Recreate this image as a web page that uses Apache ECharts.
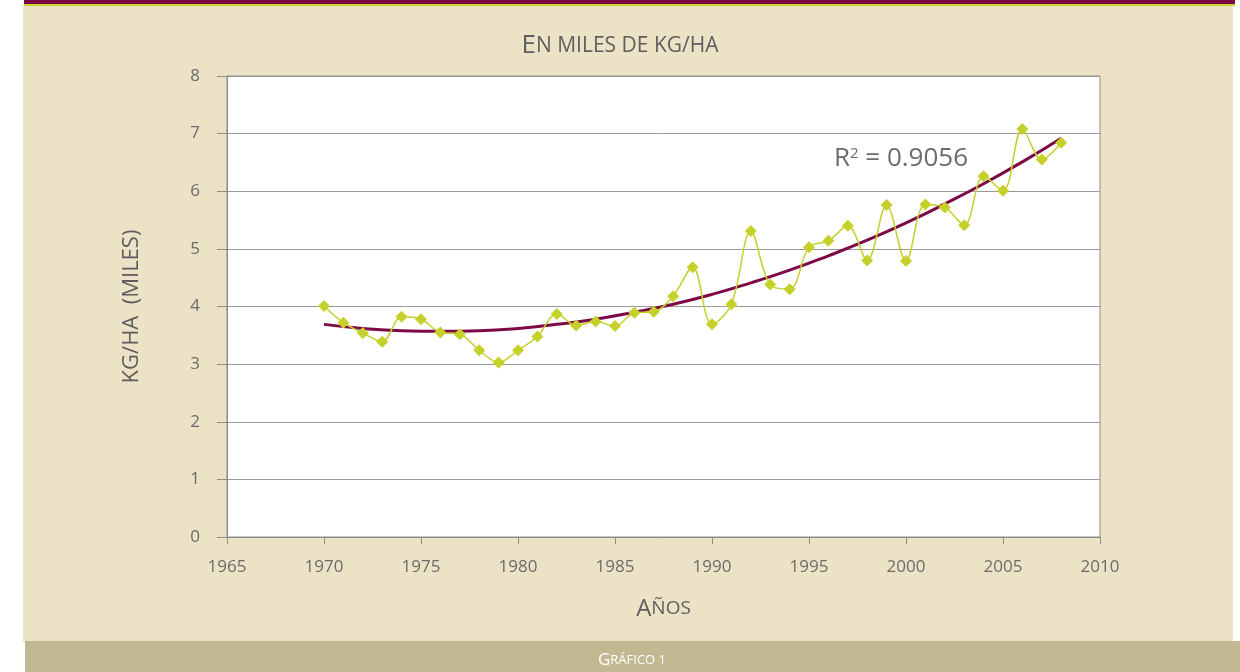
<!DOCTYPE html>
<html>
<head>
<meta charset="utf-8">
<script src="https://cdn.jsdelivr.net/npm/echarts@6/dist/echarts.min.js"></script>
<style>
  html, body { margin: 0; padding: 0; background: #ffffff; }
  #chart { width: 1240px; height: 672px; }
</style>
</head>
<body>
<div id="chart"></div>
<script>
// rendimiento anual, miles de kg/ha
const years = [1970, 1971, 1972, 1973, 1974, 1975, 1976, 1977, 1978, 1979,
  1980, 1981, 1982, 1983, 1984, 1985, 1986, 1987, 1988, 1989,
  1990, 1991, 1992, 1993, 1994, 1995, 1996, 1997, 1998, 1999,
  2000, 2001, 2002, 2003, 2004, 2005, 2006, 2007, 2008]
const yieldValues = [4.01, 3.72, 3.54, 3.39, 3.82, 3.78, 3.55, 3.52, 3.24, 3.03,
  3.24, 3.48, 3.87, 3.67, 3.74, 3.66, 3.89, 3.91, 4.18, 4.68,
  3.69, 4.04, 5.31, 4.38, 4.30, 5.03, 5.14, 5.40, 4.80, 5.76,
  4.79, 5.77, 5.72, 5.41, 6.26, 6.01, 7.08, 6.55, 6.84]

// línea de tendencia (polinómica)
const trendYears = [1970, 1972, 1974, 1976, 1978, 1980, 1982, 1984, 1986, 1988,
  1990, 1992, 1994, 1996, 1998, 2000, 2002, 2004, 2006, 2008]
const trendValues = [3.69, 3.62, 3.58, 3.57, 3.58, 3.62, 3.69, 3.78, 3.90, 4.04,
  4.21, 4.41, 4.63, 4.88, 5.15, 5.45, 5.78, 6.13, 6.51, 6.92]

const xTicks = [1965, 2010, 5]
const yTicks = [0, 8, 1]

const gray = '#6b6b6b'
const font = '"Open Sans", "Noto Sans", sans-serif'

const chart = echarts.init(document.getElementById('chart'))

chart.setOption({
  backgroundColor: '#ffffff',
  animation: false,
  graphic: [
    { type: 'rect', z: -10, shape: { x: 23, y: 6, width: 1210, height: 636 }, style: { fill: '#ece2c6' } },
    { type: 'rect', z: -5, shape: { x: 24, y: 0, width: 1211, height: 4 }, style: { fill: '#7d0a46' } },
    { type: 'rect', z: -5, shape: { x: 24, y: 4, width: 1211, height: 2 }, style: { fill: '#c9d32e' } },
    { type: 'rect', z: -5, shape: { x: 25, y: 641, width: 1215, height: 31 }, style: { fill: '#c2b992' } },
    {
      type: 'text', x: 632, y: 660,
      style: {
        text: '{a|G}{b|RÁFICO 1}',
        textAlign: 'center', textVerticalAlign: 'middle',
        rich: {
          a: { fontSize: 17, fill: '#ffffff', fontFamily: font },
          b: { fontSize: 13, fill: '#ffffff', fontFamily: font }
        }
      }
    },
    {
      type: 'text', x: 901, y: 159,
      style: {
        text: 'R{s|2} = 0.9056',
        textAlign: 'center', textVerticalAlign: 'middle',
        fontSize: 26, fill: gray, fontFamily: font,
        rich: { s: { fontSize: 15, fill: gray, fontFamily: font, verticalAlign: 'top', padding: [0, 0, 11, 0] } }
      }
    }
  ],
  title: {
    text: '{a|E}{b|N MILES DE KG/HA}',
    left: 'center',
    top: 28,
    textStyle: {
      fontWeight: 'normal',
      rich: {
        a: { fontSize: 26, color: '#5e5e5e', fontFamily: font, fontWeight: 'normal' },
        b: { fontSize: 21, color: '#5e5e5e', fontFamily: font, fontWeight: 'normal' }
      }
    }
  },
  grid: {
    left: 227, right: 140, top: 76, bottom: 135,
    show: true, backgroundColor: '#ffffff', borderColor: '#8c8c8c', borderWidth: 1
  },
  xAxis: {
    type: 'value',
    min: xTicks[0], max: xTicks[1], interval: xTicks[2],
    name: '{a|A}{b|ÑOS}',
    nameLocation: 'middle',
    nameGap: 60,
    nameTextStyle: {
      rich: {
        a: { fontSize: 24, color: '#5e5e5e', fontFamily: font },
        b: { fontSize: 19, color: '#5e5e5e', fontFamily: font }
      }
    },
    axisLine: { lineStyle: { color: '#8c8c8c' } },
    axisTick: { show: true, length: 7, lineStyle: { color: '#8c8c8c' } },
    splitLine: { show: false },
    axisLabel: { color: gray, fontSize: 17, fontFamily: font, margin: 22, formatter: v => String(v) }
  },
  yAxis: {
    type: 'value',
    min: yTicks[0], max: yTicks[1], interval: yTicks[2],
    name: 'KG/HA  (MILES)',
    nameLocation: 'middle',
    nameGap: 84,
    nameRotate: 90,
    nameTextStyle: { fontSize: 22, color: '#5e5e5e', fontFamily: font, fontWeight: 'normal' },
    axisLine: { show: true, lineStyle: { color: '#8c8c8c' } },
    axisTick: { show: true, length: 10, lineStyle: { color: '#8c8c8c' } },
    splitLine: { show: true, lineStyle: { color: '#9a9a9a', width: 1 } },
    axisLabel: { color: gray, fontSize: 17, fontFamily: font, margin: 27 }
  },
  series: [
    {
      type: 'line',
      name: 'rendimiento',
      data: years.map((y, i) => [y, yieldValues[i]]),
      smooth: 0.35,
      symbol: 'diamond',
      symbolSize: 12,
      itemStyle: { color: '#c5d12a' },
      lineStyle: { color: '#c5d12a', width: 1.5 },
      z: 3
    },
    {
      type: 'line',
      name: 'tendencia',
      data: trendYears.map((y, i) => [y, trendValues[i]]),
      smooth: true,
      showSymbol: false,
      lineStyle: { color: '#7d0a46', width: 3 },
      z: 2
    }
  ]
})
</script>
</body>
</html>
